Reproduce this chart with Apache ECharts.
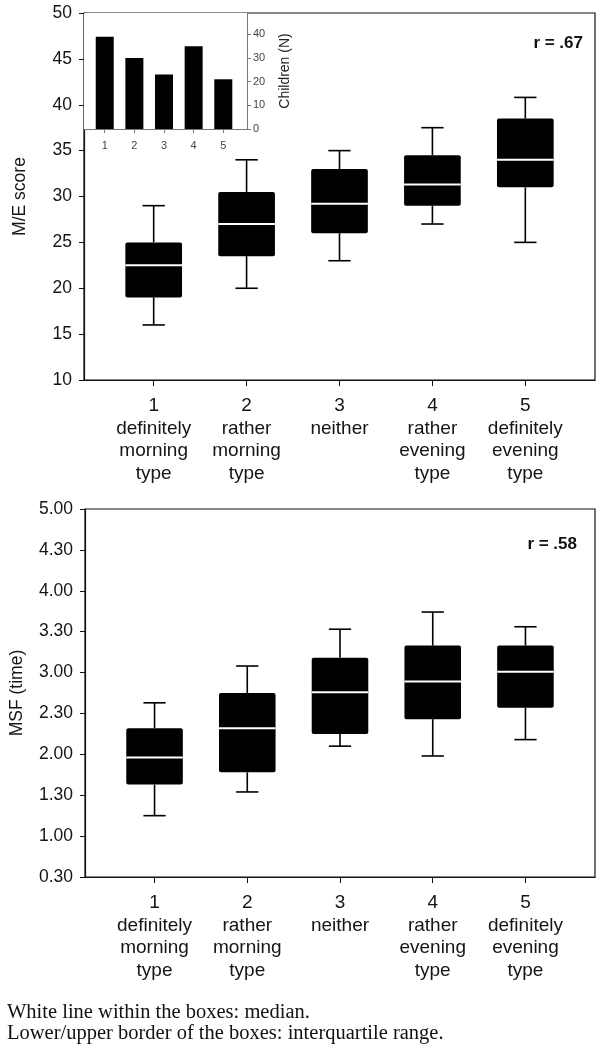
<!DOCTYPE html>
<html><head><meta charset="utf-8">
<script src="https://cdn.jsdelivr.net/npm/echarts@6/dist/echarts.min.js"></script>
<style>html,body{margin:0;padding:0;background:#fff}#c{width:600px;height:1050px}</style>
</head><body><div id="c"></div>
<script>
// ---------- data ----------
const categories = ['1\ndefinitely\nmorning\ntype', '2\nrather\nmorning\ntype', '3\nneither', '4\nrather\nevening\ntype', '5\ndefinitely\nevening\ntype'];
const positions = [1, 2, 3, 4, 5];
// M/E score box statistics
const meMin    = [16, 20, 23, 27, 25];
const meQ1     = [19, 23.5, 26, 29, 31];
const meMedian = [22.5, 27, 29.2, 31.3, 34];
const meQ3     = [25, 30.5, 33, 34.5, 38.5];
const meMax    = [29, 34, 35, 37.5, 40.8];
// MSF box statistics (hours)
const msfMin    = [1.25, 1.54, 2.10, 1.98, 2.18];
const msfQ1     = [1.63, 1.78, 2.25, 2.43, 2.57];
const msfMedian = [1.96, 2.32, 2.76, 2.89, 3.01];
const msfQ3     = [2.32, 2.75, 3.18, 3.33, 3.33];
const msfMax    = [2.63, 3.08, 3.53, 3.74, 3.56];
// inset: number of children per chronotype
const childrenN = [39, 30, 23, 35, 21];
const insetTicks = [0, 10, 20, 30, 40];
const rTop = 'r = .67';
const rBottom = 'r = .58';
const footnotes = ['White line within the boxes: median.', 'Lower/upper border of the boxes: interquartile range.'];

// ---------- build ----------
function boxData(mn, q1, md, q3, mx) {
  return positions.map((p, i) => [p, mn[i], q1[i], md[i], q3[i], mx[i]]);
}
function renderBox(params, api) {
  const x = api.value(0);
  const lo = api.coord([x, api.value(1)]);
  const q1 = api.coord([x, api.value(2)]);
  const md = api.coord([x, api.value(3)]);
  const q3 = api.coord([x, api.value(4)]);
  const hi = api.coord([x, api.value(5)]);
  const bw = api.size([0.61, 0])[0];
  const cw = api.size([0.24, 0])[0];
  const cx = lo[0];
  const ls = {stroke: '#000', lineWidth: 1.6};
  return {type: 'group', children: [
    {type: 'line', shape: {x1: cx, y1: hi[1], x2: cx, y2: q3[1]}, style: ls},
    {type: 'line', shape: {x1: cx - cw / 2, y1: hi[1], x2: cx + cw / 2, y2: hi[1]}, style: ls},
    {type: 'line', shape: {x1: cx, y1: lo[1], x2: cx, y2: q1[1]}, style: ls},
    {type: 'line', shape: {x1: cx - cw / 2, y1: lo[1], x2: cx + cw / 2, y2: lo[1]}, style: ls},
    {type: 'rect', shape: {x: cx - bw / 2, y: q3[1], width: bw, height: q1[1] - q3[1], r: 2}, style: {fill: '#000'}},
    {type: 'line', shape: {x1: cx - bw / 2, y1: md[1], x2: cx + bw / 2, y2: md[1]}, style: {stroke: '#fff', lineWidth: 2}}
  ]};
}
function hm(v) {
  const h = Math.floor(v + 1e-9);
  const m = Math.round((v - h) * 60);
  return h + '.' + (m < 10 ? '0' : '') + m;
}
const FONT = 'Liberation Sans, Arial, sans-serif';
const lab = {fontFamily: FONT, fontSize: 17.5, color: '#151515'};
function xAxisMain(gi) {
  return {
    type: 'value', gridIndex: gi, min: 0.25, max: 5.75,
    axisLine: {show: true, lineStyle: {color: '#111', width: 1.2}},
    axisTick: {show: true, customValues: positions, length: 6, inside: false, lineStyle: {color: '#111'}},
    axisLabel: {customValues: positions, formatter: v => categories[Math.round(v) - 1], margin: 15,
      fontFamily: FONT, fontSize: 19, lineHeight: 22.5, color: '#151515', align: 'center'},
    splitLine: {show: false}
  };
}

const chart = echarts.init(document.getElementById('c'), null, {renderer: 'canvas'});
chart.setOption({
  animation: false,
  backgroundColor: '#fff',
  grid: [
    {left: 84, top: 13, width: 511, height: 367, show: true, borderColor: '#111', borderWidth: 1.2, backgroundColor: 'transparent'},
    {left: 84, top: 509, width: 511, height: 368, show: true, borderColor: '#111', borderWidth: 1.2, backgroundColor: 'transparent'},
    {left: 84, top: 13, width: 163, height: 116, show: true, borderWidth: 0, backgroundColor: '#fff', z: 5}
  ],
  xAxis: [
    xAxisMain(0),
    xAxisMain(1),
    {type: 'value', gridIndex: 2, min: 0.3, max: 5.8, z: 6,
      axisLine: {show: true, lineStyle: {color: '#777', width: 1}},
      axisTick: {show: true, customValues: positions, length: 4, lineStyle: {color: '#777'}},
      axisLabel: {customValues: positions, formatter: v => String(Math.round(v)), margin: 11, fontFamily: FONT, fontSize: 11, color: '#444'},
      splitLine: {show: false}}
  ],
  yAxis: [
    {type: 'value', gridIndex: 0, min: 10, max: 50, interval: 5,
      name: 'M/E score', nameLocation: 'middle', nameGap: 55, nameTextStyle: {fontFamily: FONT, fontSize: 17.5, color: '#151515'},
      axisLine: {show: true, lineStyle: {color: '#111', width: 1.2}},
      axisTick: {show: true, length: 5, lineStyle: {color: '#111'}},
      axisLabel: Object.assign({margin: 12}, lab), splitLine: {show: false}},
    {type: 'value', gridIndex: 1, min: 0.5, max: 5, interval: 0.5,
      name: 'MSF (time)', nameLocation: 'middle', nameGap: 59, nameTextStyle: {fontFamily: FONT, fontSize: 17.5, color: '#151515'},
      axisLine: {show: true, lineStyle: {color: '#111', width: 1.2}},
      axisTick: {show: true, length: 5, lineStyle: {color: '#111'}},
      axisLabel: Object.assign({margin: 12, formatter: hm}, lab), splitLine: {show: false}},
    {type: 'value', gridIndex: 2, position: 'right', min: 0, max: 49, z: 6,
      name: 'Children (N)', nameLocation: 'middle', nameGap: 31, nameRotate: 90,
      nameTextStyle: {fontFamily: FONT, fontSize: 14, color: '#222'},
      axisLine: {show: true, lineStyle: {color: '#777', width: 1}},
      axisTick: {show: true, customValues: insetTicks, length: 4, lineStyle: {color: '#777'}},
      axisLabel: {customValues: insetTicks, margin: 6, fontFamily: FONT, fontSize: 11, color: '#444'},
      splitLine: {show: false}}
  ],
  series: [
    {type: 'custom', xAxisIndex: 0, yAxisIndex: 0, renderItem: renderBox, data: boxData(meMin, meQ1, meMedian, meQ3, meMax), z: 3},
    {type: 'custom', xAxisIndex: 1, yAxisIndex: 1, renderItem: renderBox, data: boxData(msfMin, msfQ1, msfMedian, msfQ3, msfMax), z: 3},
    {type: 'bar', xAxisIndex: 2, yAxisIndex: 2, barWidth: 18, itemStyle: {color: '#000'}, z: 7,
      data: positions.map((p, i) => [p, childrenN[i]])}
  ],
  graphic: [
    {type: 'text', right: 17, top: 35, z: 10, style: {text: rTop, fontFamily: FONT, fontSize: 17, fontWeight: 'bold', fill: '#111'}},
    {type: 'text', right: 23, top: 536, z: 10, style: {text: rBottom, fontFamily: FONT, fontSize: 17, fontWeight: 'bold', fill: '#111'}},
    {type: 'text', left: 7, top: 1002, z: 10, style: {text: footnotes[0], fontFamily: 'Liberation Serif, Times New Roman, serif', fontSize: 20.5, fill: '#111'}},
    {type: 'text', left: 7, top: 1023, z: 10, style: {text: footnotes[1], fontFamily: 'Liberation Serif, Times New Roman, serif', fontSize: 20.5, fill: '#111'}}
  ]
});
</script></body></html>
